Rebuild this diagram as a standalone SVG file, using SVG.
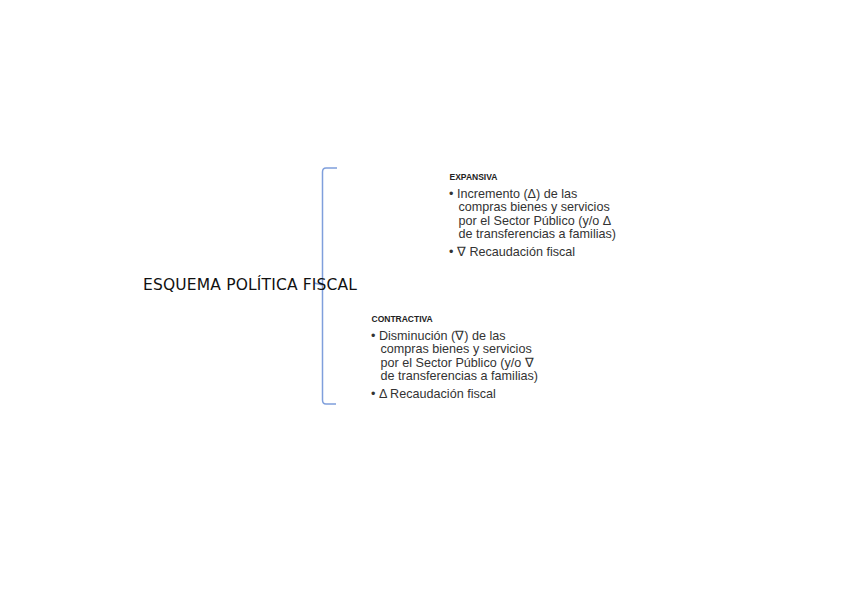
<svg xmlns="http://www.w3.org/2000/svg" width="848" height="599" viewBox="0 0 848 599">
<style>
.title{font-family:"DejaVu Sans",sans-serif;font-size:15.5px;fill:#111;}
.head{font-family:"Liberation Sans",Arial,sans-serif;font-size:8.5px;font-weight:bold;fill:#222;}
.body{font-family:"Liberation Sans",Arial,sans-serif;font-size:12.6px;fill:#333;}
.brace{fill:none;stroke:#7f9fdc;stroke-width:1.5;}
</style>
<rect width="848" height="599" fill="#fff"/>
<g id="connectors">
<path class="brace" d="M337,168 L326,168 Q322.5,168 322.5,172 L322.5,400 Q322.5,404 326,404 L336,404"/>
<path class="brace" d="M314,283 L322.5,285"/>
</g>
<g id="title">
<text class="title" x="143" y="289.5" textLength="214" lengthAdjust="spacing">ESQUEMA POLÍTICA FISCAL</text>
</g>
<g id="expansiva">
<text class="head" x="449.5" y="180">EXPANSIVA</text>
<text class="body"><tspan x="449" y="198">• Incremento (Δ) de las</tspan><tspan x="458.5" y="211.3">compras bienes y servicios</tspan><tspan x="458.5" y="224.6">por el Sector Público (y/o Δ</tspan><tspan x="458.5" y="237.9">de transferencias a familias)</tspan><tspan x="449" y="256">• ∇ Recaudación fiscal</tspan></text>
</g>
<g id="contractiva">
<text class="head" x="371.5" y="322">CONTRACTIVA</text>
<text class="body"><tspan x="371" y="340">• Disminución (∇) de las</tspan><tspan x="380.5" y="353.3">compras bienes y servicios</tspan><tspan x="380.5" y="366.6">por el Sector Público (y/o ∇</tspan><tspan x="380.5" y="379.9">de transferencias a familias)</tspan><tspan x="371" y="398">• Δ Recaudación fiscal</tspan></text>
</g>
</svg>
